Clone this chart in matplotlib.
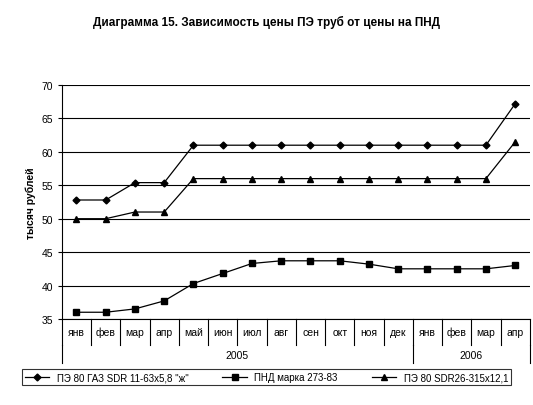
import matplotlib
matplotlib.use("Agg")
import matplotlib.pyplot as plt
from itertools import accumulate

months = ["янв","фев","мар","апр","май","июн","июл","авг","сен","окт","ноя","дек","янв","фев","мар","апр"]
years = ["2005", "2006"]
year_counts = [12, 4]
s1 = [52.8,52.8,55.4,55.4,61,61,61,61,61,61,61,61,61,61,61,67.2]
s2 = [36,36,36.5,37.7,40.3,41.8,43.3,43.7,43.7,43.7,43.2,42.5,42.5,42.5,42.5,43]
s3 = [50,50,51,51,56,56,56,56,56,56,56,56,56,56,56,61.5]
names = ['ПЭ 80 ГАЗ SDR 11-63х5,8 "ж"', 'ПНД марка 273-83', 'ПЭ 80 SDR26-315х12,1']

plt.rcParams['font.family'] = ['Liberation Sans', 'DejaVu Sans']
fig = plt.figure(figsize=(5.33, 4.06), dpi=100)
ax = fig.add_axes([0.116, 0.212, 0.878, 0.576])
x = list(range(len(months)))
ax.plot(x, s1, color='black', lw=0.9, marker='D', ms=3.5, label=names[0])
ax.plot(x, s2, color='black', lw=0.9, marker='s', ms=4, label=names[1])
ax.plot(x, s3, color='black', lw=0.9, marker='^', ms=4.5, label=names[2])
ax.set_xlim(-0.5, len(months)-0.5)
ax.set_ylim(35, 70)
ax.set_yticks(range(35, 71, 5))
ax.yaxis.grid(True, color='black', lw=0.8)
ax.set_axisbelow(True)
ax.set_xticks([])
ax.tick_params(axis='y', labelsize=7.5, length=3)
for s in ['top', 'right']:
    ax.spines[s].set_visible(False)
ax.set_ylabel('тысяч рублей', fontsize=7.5, fontweight='bold')
n = len(months)
tr = ax.get_xaxis_transform()
for i, m in enumerate(months):
    ax.text(i, -0.055, m, transform=tr, ha='center', va='center', fontsize=7.5)
for b in range(n+1):
    ax.plot([b-0.5, b-0.5], [0, -0.11], transform=tr, color='black', lw=0.8, clip_on=False)
start = 0
for y, c in zip(years, year_counts):
    ax.text(start + c/2 - 0.5, -0.155, y, transform=tr, ha='center', va='center', fontsize=7.5)
    start += c
bounds = [0] + list(accumulate(year_counts))
for b in bounds:
    ax.plot([b-0.5, b-0.5], [-0.11, -0.19], transform=tr, color='black', lw=0.8, clip_on=False)
fig.text(0.5, 0.935, 'Диаграмма 15. Зависимость цены ПЭ труб от цены на ПНД', ha='center', fontsize=8.5, fontweight='bold')
leg = fig.legend(loc='center', bbox_to_anchor=(0.5, 0.068), ncol=3, fontsize=7, frameon=True, fancybox=False,
                 edgecolor='black', handlelength=2.5, columnspacing=3.5, borderpad=0.3)
leg.get_frame().set_linewidth(0.8)
fig.savefig('out.png', dpi=100)
